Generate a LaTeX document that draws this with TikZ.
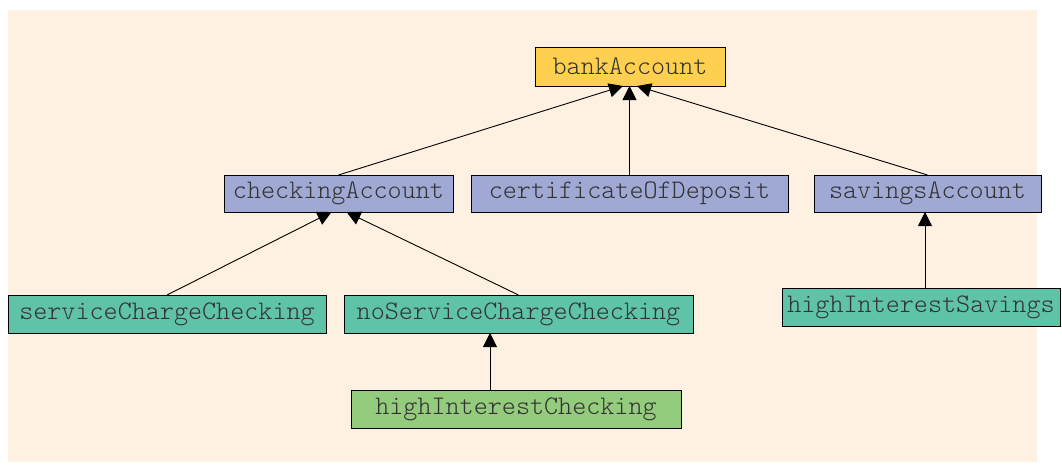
\documentclass[tikz,border=0pt]{standalone}
\usepackage{fontspec}
\setmonofont{Latin Modern Mono Light}
\usepackage{tikz}
\usetikzlibrary{arrows.meta}
\definecolor{bgpeach}{HTML}{FEF1E2}
\definecolor{baseyel}{HTML}{FFD04F}
\definecolor{midblue}{HTML}{A0A8D4}
\definecolor{leafteal}{HTML}{5EC3A7}
\definecolor{lowgreen}{HTML}{93CC7C}
\definecolor{inktxt}{HTML}{333333}

\begin{document}
\begin{tikzpicture}[x=1pt,y=-1pt,
  cls/.style={draw=black,line width=0.9pt,inner sep=0pt,outer sep=0pt,
    minimum height=38pt,text=inktxt,
    font=\ttfamily\fontsize{26.8}{27}\selectfont},
  inh/.style={line width=0.9pt,-{Triangle[width=14pt,length=14pt]}}]
\useasboundingbox(0,0)rectangle(1062,464);
\fill[bgpeach](8,10)rectangle(1037,462);
% classes
\node[cls,fill=baseyel,minimum width=190pt,minimum height=39pt](bank)at(630,66.5){bankAccount};
\node[cls,fill=midblue,minimum width=229pt,minimum height=37pt](checking)at(338.5,193.5){checkingAccount};
\node[cls,fill=midblue,minimum width=317pt,minimum height=37pt](cert)at(629.5,193.5){certificateOfDeposit};
\node[cls,fill=midblue,minimum width=227pt,minimum height=37pt](savings)at(927.5,193.5){savingsAccount};
\node[cls,fill=leafteal,minimum width=318pt](svcCharge)at(167,314){serviceChargeChecking};
\node[cls,fill=leafteal,minimum width=349pt](noSvcCharge)at(518.5,314){noServiceChargeChecking};
\node[cls,fill=leafteal,minimum width=278pt](hiSavings)at(921,307){highInterestSavings};
\node[cls,fill=lowgreen,minimum width=330pt](hiChecking)at(516,409){highInterestChecking};
% inheritance
\draw[inh](checking.north)--([xshift=-7pt]bank.south);
\draw[inh](cert.north)--(cert.north|-bank.south);
\draw[inh](savings.north)--([xshift=7pt]bank.south);
\draw[inh](svcCharge.north)--([xshift=-7pt]checking.south);
\draw[inh](noSvcCharge.north)--([xshift=8pt]checking.south);
\draw[inh]([xshift=-26pt]hiChecking.north)--([xshift=-26pt]hiChecking.north|-noSvcCharge.south);
\draw[inh]([xshift=4pt]hiSavings.north)--([xshift=4pt]hiSavings.north|-savings.south);
\end{tikzpicture}
\end{document}
